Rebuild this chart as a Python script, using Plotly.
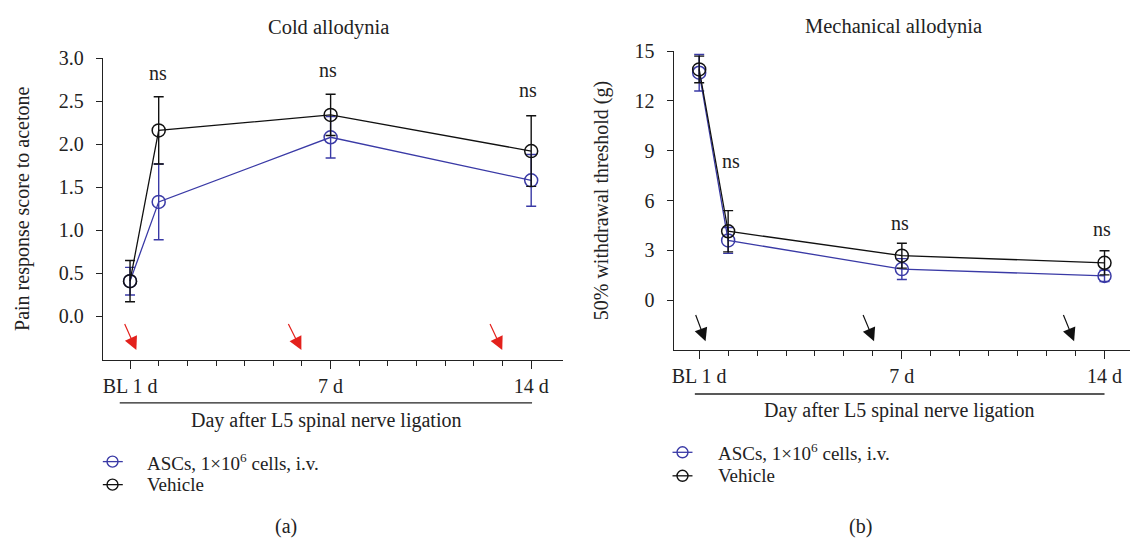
import plotly.graph_objects as go

W, H = 1130, 539
FONT = "Liberation Serif"
BLUE = "#3a3aa6"
BLACK = "#111111"
RED = "#e3211c"
FS = 20

# ---- data ----
days = [0, 1, 7, 14]
tick_vals = [0, 7, 14]
tick_text = ["BL 1 d", "7 d", "14 d"]

cold_asc = [0.41, 1.33, 2.08, 1.58]
cold_asc_err = [0.16, 0.44, 0.24, 0.30]
cold_veh = [0.41, 2.16, 2.34, 1.92]
cold_veh_err = [0.24, 0.39, 0.24, 0.41]

mech_asc = [13.7, 3.6, 1.87, 1.46]
mech_asc_err = [1.1, 0.78, 0.63, 0.34]
mech_veh = [13.9, 4.15, 2.68, 2.25]
mech_veh_err = [0.8, 1.24, 0.75, 0.73]

asc_name = "ASCs, 1×10<sup>6</sup> cells, i.v."
veh_name = "Vehicle"

cold_ns_x = [0.96, 6.9, 13.9]
cold_ns_y = [2.83, 2.86, 2.63]
mech_ns_x = [1.1, 6.95, 13.9]
mech_ns_y = [8.4, 4.64, 4.29]

# arrows: (tail_x, tail_y, tip_x, tip_y)
cold_arrows = [(-0.21, -0.07, 0.22, -0.39), (5.5, -0.07, 5.98, -0.39), (12.54, -0.07, 12.99, -0.39)]
mech_arrows = [(-0.14, -0.8, 0.22, -2.48), (5.64, -0.8, 6.04, -2.48), (12.56, -0.8, 12.95, -2.48)]


def px_x(p):
    return p / W


def px_y(p):
    return 1 - p / H


fig = go.Figure()


def add_series(x, y, err, color, name, xa, ya):
    fig.add_trace(go.Scatter(
        x=x, y=y, mode="lines+markers", name=name,
        xaxis=xa, yaxis=ya, showlegend=False,
        line=dict(color=color, width=1.3),
        marker=dict(symbol="circle-open", size=13, color=color, line=dict(width=1.5, color=color)),
        error_y=dict(type="data", array=err, visible=True, color=color, thickness=1.4, width=5),
        cliponaxis=False,
    ))


add_series(days, cold_asc, cold_asc_err, BLUE, asc_name, "x", "y")
add_series(days, cold_veh, cold_veh_err, BLACK, veh_name, "x", "y")
add_series(days, mech_asc, mech_asc_err, BLUE, asc_name, "x2", "y2")
add_series(days, mech_veh, mech_veh_err, BLACK, veh_name, "x2", "y2")

tickfont = dict(family=FONT, size=FS, color="#222")
common_x = dict(
    showline=True, linecolor="#222", linewidth=1.3, showgrid=False, zeroline=False,
    ticks="outside", ticklen=8, tickwidth=1.3, tickcolor="#222",
    tickmode="array", tickvals=tick_vals, ticktext=tick_text, tickfont=tickfont,
    minor=dict(tickmode="array", tickvals=list(range(0, 15)), ticks="outside", ticklen=5,
               tickwidth=1.2, tickcolor="#222", showgrid=False),
)
common_y = dict(
    showline=True, linecolor="#222", linewidth=1.3, showgrid=False, zeroline=False,
    ticks="outside", ticklen=6, tickwidth=1.3, tickcolor="#222", tickfont=tickfont,
    ticklabelstandoff=8,
)

fig.update_layout(
    width=W, height=H, margin=dict(l=0, r=0, t=0, b=0),
    paper_bgcolor="white", plot_bgcolor="white",
    font=dict(family=FONT, size=FS, color="#222"),
    showlegend=False,
    xaxis=dict(domain=[px_x(101), px_x(561.7)], range=[-0.95, 15.1], anchor="y", **common_x),
    yaxis=dict(domain=[px_y(355.8), px_y(48)], range=[-0.5, 3.0], anchor="x",
               tickvals=[0, 0.5, 1.0, 1.5, 2.0, 2.5, 3.0], tickformat=".1f",
               title=dict(text="Pain response score to acetone", standoff=23,
                          font=dict(family=FONT, size=FS)), **common_y),
    xaxis2=dict(domain=[px_x(672.9), 1.0], range=[-0.88, 14.88], anchor="y2", **common_x),
    yaxis2=dict(domain=[px_y(346), px_y(41)], range=[-3, 15], anchor="x2",
                tickvals=[0, 3, 6, 9, 12, 15],
                title=dict(text="50% withdrawal threshold (g)", standoff=20,
                           font=dict(family=FONT, size=FS)), **common_y),
)

ann = []


def paper_text(text, x, y, size=FS, xanchor="center"):
    ann.append(dict(text=text, x=px_x(x), y=px_y(y), xref="paper", yref="paper",
                    xanchor=xanchor, yanchor="middle", showarrow=False,
                    font=dict(family=FONT, size=size, color="#222")))


paper_text("Cold allodynia", 327, 17, 20.5)
paper_text("Mechanical allodynia", 893, 16, 20.5)
paper_text("Day after L5 spinal nerve ligation", 325, 418)
paper_text("Day after L5 spinal nerve ligation", 898.6, 408)
paper_text("(a)", 285, 526)
paper_text("(b)", 860, 526)

for xv, yv in zip(cold_ns_x, cold_ns_y):
    ann.append(dict(text="ns", x=xv, y=yv, xref="x", yref="y", showarrow=False,
                    xanchor="center", yanchor="middle", font=dict(size=FS)))
for xv, yv in zip(mech_ns_x, mech_ns_y):
    ann.append(dict(text="ns", x=xv, y=yv, xref="x2", yref="y2", showarrow=False,
                    xanchor="center", yanchor="middle", font=dict(size=FS)))
for tx, ty, hx, hy in cold_arrows:
    ann.append(dict(x=hx, y=hy, ax=tx, ay=ty, xref="x", yref="y", axref="x", ayref="y",
                    showarrow=True, arrowhead=2, arrowsize=2.2, arrowwidth=1.2, arrowcolor=RED, text=""))
for tx, ty, hx, hy in mech_arrows:
    ann.append(dict(x=hx, y=hy, ax=tx, ay=ty, xref="x2", yref="y2", axref="x2", ayref="y2",
                    showarrow=True, arrowhead=2, arrowsize=2.2, arrowwidth=1.2, arrowcolor=BLACK, text=""))

# ---- legends (drawn as symbol + label) ----
LFS = 19
legend_items = [
    # (line_x0, line_x1, marker_cx, text_x, y, color, label)
    (101, 121, 110.7, 143.3, 460, BLUE, asc_name),
    (101, 121, 110.7, 143.3, 483.5, BLACK, veh_name),
    (671.7, 691.7, 681.7, 715, 450.5, BLUE, asc_name),
    (671.7, 691.7, 681.7, 715, 474.5, BLACK, veh_name),
]
for lx0, lx1, cx, tx, y, col, label in legend_items:
    fig.add_shape(type="line", xref="paper", yref="paper", x0=px_x(lx0), x1=px_x(lx1),
                  y0=px_y(y), y1=px_y(y), line=dict(color=col, width=1.3))
    fig.add_shape(type="circle", xref="paper", yref="paper", xsizemode="pixel", ysizemode="pixel",
                  xanchor=px_x(cx), yanchor=px_y(y), x0=-5.5, x1=5.5, y0=-5.5, y1=5.5,
                  line=dict(color=col, width=1.4), fillcolor="rgba(0,0,0,0)")
    paper_text(label, tx, y, LFS, xanchor="left")

fig.update_layout(annotations=ann)

fig.add_shape(type="line", xref="x", yref="paper", x0=-0.36, x1=14.03, y0=px_y(400), y1=px_y(400),
              line=dict(color="#222", width=1.3))
fig.add_shape(type="line", xref="x2", yref="paper", x0=-0.15, x1=14.0, y0=px_y(391), y1=px_y(391),
              line=dict(color="#222", width=1.3))

fig.write_html("out.html", config={"displayModeBar": False},
               post_script="document.body.style.margin='0';document.body.style.overflow='hidden';")
